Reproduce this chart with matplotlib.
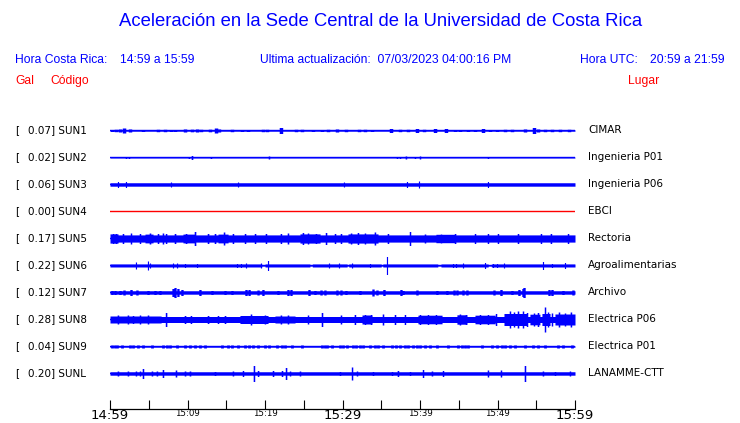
import numpy as np
import matplotlib
matplotlib.use("Agg")
import matplotlib.pyplot as plt

# ---------------- data ----------------
stations = ["SUN1", "SUN2", "SUN3", "SUN4", "SUN5", "SUN6", "SUN7", "SUN8", "SUN9", "SUNL"]
gal = [0.07, 0.02, 0.06, 0.00, 0.17, 0.22, 0.12, 0.28, 0.04, 0.20]
places = ["CIMAR", "Ingenieria P01", "Ingenieria P06", "EBCI", "Rectoria",
          "Agroalimentarias", "Archivo", "Electrica P06", "Electrica P01", "LANAMME-CTT"]
# background half-amplitude of each trace (display units)
base_amp = [0.7, 0.5, 1.7, 0.0, 3.6, 1.5, 1.7, 3.0, 0.7, 1.7]

tick_minutes = list(range(0, 61, 5))
tick_labels = ["14:59", "", "15:09", "", "15:19", "", "15:29", "", "15:39", "", "15:49", "", "15:59"]
major_labels = ["14:59", "15:29", "15:59"]

# short events: (minute after 14:59, half-amplitude)
sun1_events = [(0.26, 1), (0.77, 1.2), (1.29, 1.5), (1.81, 2.5), (2.58, 1.5), (4.26, 1), (6.19, 1.2),
               (7.10, 1.2), (7.87, 1), (8.39, 1), (9.68, 1.5), (10.58, 1.3), (11.23, 1.5), (11.74, 1.2),
               (12.90, 1.3), (13.68, 2.5), (14.06, 1.5), (15.74, 1.2), (17.03, 1), (17.81, 1), (19.74, 1.2),
               (20.26, 1.2), (22.06, 3), (24.0, 1.2), (24.77, 1.2), (26.19, 1), (27.35, 1), (28.13, 1.2),
               (29.29, 1.5), (30.45, 1.2), (32.13, 1.2), (32.90, 1.2), (33.81, 1), (36.26, 2), (37.42, 1.2),
               (38.45, 1.2), (39.61, 2), (40.52, 1.2), (41.94, 2), (43.35, 2), (44.52, 1), (45.16, 1),
               (46.19, 1), (47.10, 1), (48.13, 2), (49.03, 1), (49.94, 1), (50.97, 1.2), (51.87, 1.2),
               (53.55, 1.5), (54.71, 3), (55.23, 1.5), (56.13, 1.2), (57.03, 1.2), (58.06, 1.2), (59.23, 1.2)]
sun2_events = [(2.06, 1), (2.45, 1), (10.19, 1), (10.58, 2), (13.03, 1), (20.52, 1.5), (37.03, 1),
               (37.42, 1), (38.19, 1.5), (39.35, 1), (40.0, 1.5), (48.77, 1)]
sun3_events = [(1.03, 3), (2.06, 3), (7.87, 2.5), (16.52, 2.5), (30.19, 2.5), (38.32, 3), (39.87, 3.5),
               (48.77, 3)]
sun4_events = []
sun5_bursts = [(0, 1.03, 4.6), (4.52, 5.55, 4.4), (9.42, 10.97, 4.4), (13.94, 15.23, 4.4), (24.52, 27.10, 4.6),
               (30.71, 34.58, 4.6), (42.06, 44.52, 4.2)]
sun5_events = [(0.39, 5), (0.77, 5), (1.68, 5), (2.71, 5.5), (3.87, 5), (5.16, 5.5), (6.19, 5),
               (6.84, 5.5), (7.23, 5), (8.39, 5), (9.81, 5), (10.97, 7), (12.65, 5), (13.55, 5),
               (14.71, 6.5), (15.87, 5), (17.42, 5), (18.71, 5), (20.13, 5), (22.06, 5), (22.97, 5.5),
               (24.90, 6), (25.55, 5.5), (26.58, 5), (27.87, 6), (29.03, 5), (29.81, 5), (31.10, 5.5),
               (32.0, 6), (32.90, 5.5), (34.19, 6.5), (35.87, 5), (38.71, 7), (40.65, 4.5), (42.71, 4.5),
               (44.52, 5), (47.10, 5), (48.77, 5), (50.06, 5), (52.65, 5), (55.61, 5),
               (56.90, 5), (59.10, 5)]
sun6_events = [(3.35, 3.5), (4.90, 4.5), (5.16, 2.5), (8.13, 2.5), (8.65, 2.5), (9.68, 2), (11.23, 2),
               (16.39, 2), (16.90, 2), (17.55, 2.5), (19.48, 2.5), (20.39, 5), (28.26, 2.5), (29.55, 2.5),
               (31.23, 2.5), (33.55, 2), (35.74, 9), (44.26, 2), (44.65, 2), (45.55, 2.5), (48.39, 3),
               (49.42, 2), (49.94, 2), (50.84, 2.5), (55.87, 4), (57.03, 2), (58.71, 3)]
sun6_gaps = [(19.6, 20.0), (25.8, 26.1), (30.6, 30.8), (35.0, 35.2), (42.3, 42.7), (48.8, 49.2)]
sun7_events = [(0.26, 2), (0.65, 2), (1.29, 2), (1.81, 2.5), (2.71, 3), (3.48, 2.5), (4.90, 2), (5.81, 2),
               (6.45, 2), (8.13, 4), (8.39, 5), (8.77, 4), (9.29, 3), (11.61, 3), (13.16, 2), (14.84, 2),
               (15.74, 2), (17.55, 3), (17.94, 3), (19.10, 2.5), (19.74, 3), (21.68, 2), (22.97, 3),
               (23.35, 3), (25.68, 3), (26.45, 2), (27.23, 2.5), (27.74, 2.5), (29.29, 2.5), (29.81, 2.5),
               (30.45, 2), (32.26, 2), (33.94, 3.5), (34.45, 2.5), (35.35, 3), (37.55, 3), (37.81, 2),
               (39.61, 2.5), (42.19, 2), (43.48, 2), (44.39, 2.5), (44.77, 2.5), (45.55, 2.5), (46.06, 2.5),
               (49.55, 2.5), (50.45, 3), (51.87, 2), (52.77, 3), (53.29, 4), (53.42, 5), (56.65, 3),
               (57.03, 3), (58.45, 2), (59.74, 2.5)]
sun8_bursts = [(0, 6.6, 3.5), (16.77, 20.39, 4.0), (21.29, 23.87, 3.5), (32.52, 33.81, 4.5),
               (39.74, 42.84, 4.3), (44.77, 46.06, 4.7), (47.1, 49.68, 4.3), (50.84, 53.87, 6.0),
               (54.19, 55.48, 5.3), (55.74, 56.77, 6.0), (57.42, 60.0, 5.5)]
sun8_events = [(1.03, 4.5), (2.32, 4.5), (2.97, 4), (3.87, 4.5), (4.90, 4.5), (7.23, 7), (9.68, 4),
               (10.45, 4), (12.65, 4), (13.94, 4), (14.84, 4), (18.19, 5.5), (20.0, 4.5), (22.06, 4.5),
               (22.97, 4.5), (25.55, 4.5), (27.35, 7), (29.81, 4.5), (31.61, 5), (32.90, 5), (33.68, 5),
               (35.23, 5.5), (36.77, 5), (38.06, 5), (40.0, 5), (41.03, 5), (42.06, 5), (45.16, 5.5),
               (45.94, 5), (47.74, 5), (48.77, 5), (49.81, 6), (51.61, 8.5), (52.13, 7.5), (52.65, 8.5),
               (53.29, 8.5), (53.81, 7), (54.71, 6.5), (55.23, 7), (56.13, 12.5), (56.52, 7.5), (57.03, 6.5),
               (57.94, 7.5), (58.71, 6.5), (59.48, 7.5)]
sun9_times = [0.26, 0.65, 0.90, 1.55, 2.58, 2.97, 3.61, 4.26, 5.42, 6.84, 7.35, 7.74, 8.65, 9.68, 10.32,
              10.97, 11.61, 12.26, 14.45, 15.23, 15.74, 16.52, 17.42, 17.94, 18.45, 19.10, 20.0, 20.52,
              21.55, 22.19, 22.58, 23.48, 24.77, 27.35, 27.74, 28.0, 28.65, 29.68, 30.06, 30.58, 31.35,
              31.74, 32.26, 32.65, 33.55, 34.19, 34.58, 35.23, 36.39, 36.90, 37.42, 38.06, 38.45, 39.10,
              39.61, 40.0, 40.65, 41.29, 42.19, 43.61, 44.90, 45.42, 45.81, 46.19, 48.0, 49.29, 49.94,
              50.58, 50.97, 51.61, 52.26, 53.55, 54.58, 55.23, 56.13, 57.81, 58.45, 59.61]
sun9_amp = 1.5
sunl_events = [(1.03, 2.5), (2.32, 2.5), (3.35, 2.5), (3.87, 2.5), (4.26, 5), (5.42, 2.5), (6.06, 2.5),
               (6.84, 4), (8.52, 3.5), (9.68, 2.5), (10.32, 2.5), (13.55, 2), (15.87, 2.5), (17.16, 3),
               (18.58, 8), (19.10, 3), (21.03, 3), (22.19, 3), (22.71, 6), (23.23, 2.5), (24.52, 2.5),
               (29.68, 2), (31.23, 6.5), (31.87, 2.5), (33.94, 2), (36.39, 2), (37.16, 3), (38.71, 2),
               (40.39, 4), (41.55, 2.5), (42.97, 3), (48.77, 3.5), (50.45, 3.5), (53.55, 8), (55.87, 2.5),
               (57.42, 2), (59.35, 2.5)]

events = [sun1_events, sun2_events, sun3_events, sun4_events, sun5_events, sun6_events,
          sun7_events, sun8_events, [(t, sun9_amp) for t in sun9_times], sunl_events]
bursts = {4: sun5_bursts, 7: sun8_bursts}
gaps = {5: [(a, b, 0.6) for a, b in sun6_gaps]}

# ---------------- style ----------------
event_width = [0.45, 0.2, 0.15, 0.1, 0.2, 0.15, 0.3, 0.2, 0.35, 0.2]
W, H = 740, 423
BLUE = "#0000ff"
RED = "#ff0000"

fig = plt.figure(figsize=(W / 100, H / 100), dpi=100)
fig.patch.set_facecolor("white")

def fx(x):
    return x / W

def fy(y):
    return 1 - y / H

# header
fig.text(fx(381), fy(22), "Aceleración en la Sede Central de la Universidad de Costa Rica",
         family="Liberation Sans", fontsize=13.3, color=BLUE, ha="center", va="center")
hs = 8.7
fig.text(fx(15), fy(60), "Hora Costa Rica:", family="Liberation Sans", fontsize=hs, color=BLUE, va="center")
fig.text(fx(120), fy(60), "14:59 a 15:59", family="Liberation Sans", fontsize=hs, color=BLUE, va="center")
fig.text(fx(260), fy(60), "Ultima actualización:  07/03/2023 04:00:16 PM", family="Liberation Sans",
         fontsize=hs, color=BLUE, va="center")
fig.text(fx(580), fy(60), "Hora UTC:", family="Liberation Sans", fontsize=hs, color=BLUE, va="center")
fig.text(fx(725), fy(60), "20:59 a 21:59", family="Liberation Sans", fontsize=hs, color=BLUE,
         va="center", ha="right")
fig.text(fx(15), fy(81), "Gal", family="Liberation Sans", fontsize=hs, color=RED, va="center")
fig.text(fx(50), fy(81), "Código", family="Liberation Sans", fontsize=hs, color=RED, va="center")
fig.text(fx(628), fy(81), "Lugar", family="Liberation Sans", fontsize=hs, color=RED, va="center")

# axes in pixel-like units vertically
ax = fig.add_axes([fx(110), fy(409), fx(575) - fx(110), (409 - 115) / H])
ax.set_xlim(0, 60)
ax.set_ylim(409, 115)
for s in ["top", "left", "right"]:
    ax.spines[s].set_visible(False)
ax.spines["bottom"].set_linewidth(0.9)
ax.set_yticks([])
ax.set_xticks(tick_minutes)
ax.set_xticklabels(tick_labels)
ax.tick_params(axis="x", direction="in", length=6.5, width=0.8, pad=0.3)
for lab in ax.get_xticklabels():
    if lab.get_text() in major_labels:
        lab.set_fontsize(9.5)
    else:
        lab.set_fontsize(6.2)

t = np.linspace(0, 60, 6001)
for i, name in enumerate(stations):
    off = 130.5 + 27 * i
    env = np.full_like(t, base_amp[i])
    for (a, b, amp) in bursts.get(i, []):
        m = (t >= a) & (t <= b)
        env[m] = np.maximum(env[m], amp)
    for (a, b, amp) in gaps.get(i, []):
        m = (t >= a) & (t <= b)
        env[m] = np.minimum(env[m], amp)
    for (tc, amp) in events[i]:
        m = np.abs(t - tc) <= event_width[i] / 2
        env[m] = np.maximum(env[m], amp)
    color = RED if gal[i] == 0 else BLUE
    if env.max() > 0:
        ax.fill_between(t, off - env, off + env, color=color, linewidth=0, step="mid")
    ax.plot(t, np.full_like(t, off), color=color, lw=1.0, solid_capstyle="butt")
    lab_y = fy(off - 0.5)
    fig.text(fx(15), lab_y, "[", fontsize=7.5, va="center", family="DejaVu Sans")
    fig.text(fx(27.5), lab_y, f"{gal[i]:.2f}] {name}", fontsize=7.5, va="center", family="DejaVu Sans")
    fig.text(fx(588), lab_y, places[i], fontsize=7.5, va="center", family="DejaVu Sans")

fig.savefig("out.png", dpi=100)
